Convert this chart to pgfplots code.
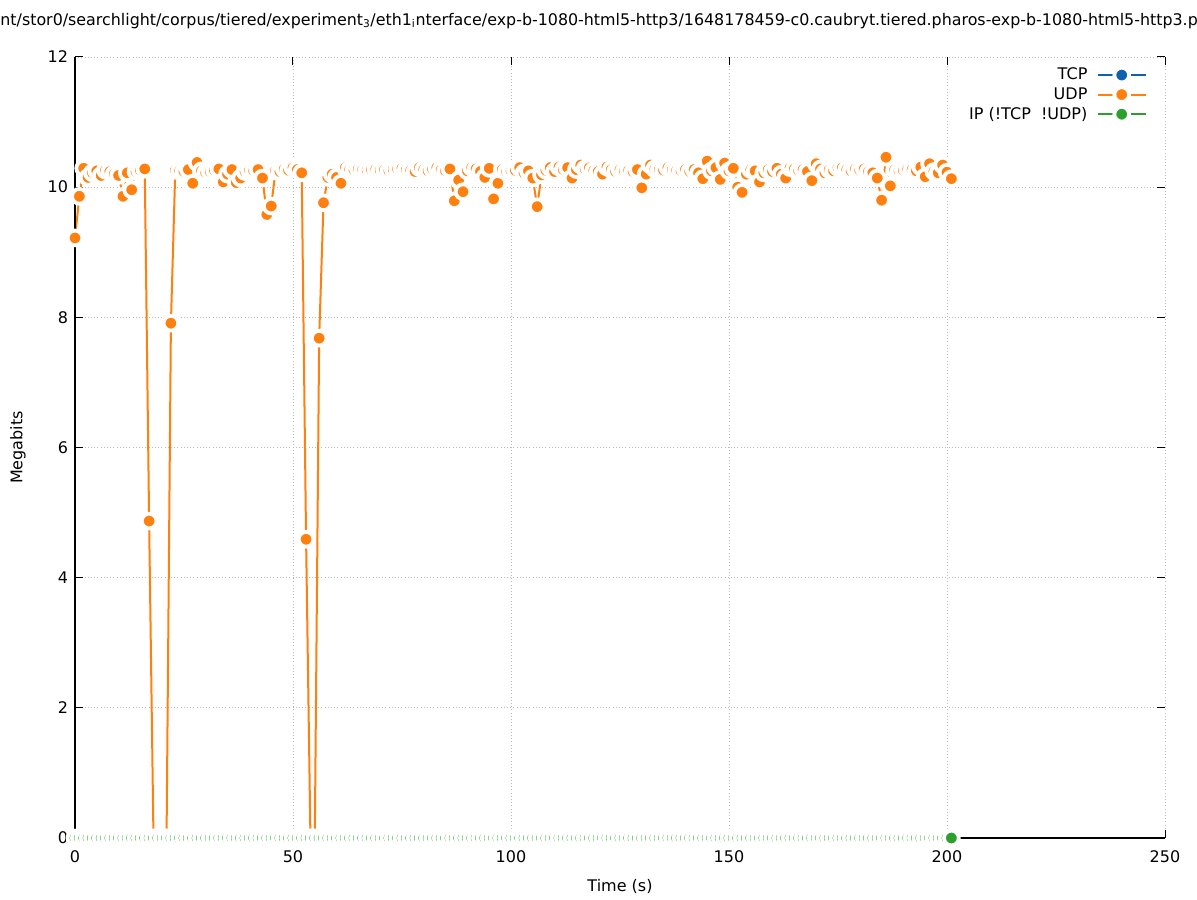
\documentclass[border=0pt]{standalone}
\usepackage{fontspec}
\setmainfont{DejaVu Sans}
\usepackage{pgfplots}
\pgfplotsset{compat=1.18}
\definecolor{tcpblue}{RGB}{16,96,176}
\definecolor{udporange}{RGB}{255,128,14}
\definecolor{ipgreen}{RGB}{44,160,44}
\begin{document}
\fontsize{12}{14.4}\selectfont
\begin{tikzpicture}
\begin{axis}[
  at={(0,0)}, anchor=south west,
  scale only axis, width=817.5pt, height=585.75pt,
  xmin=0, xmax=250, ymin=0, ymax=12,
  xtick={0,50,...,250}, ytick={0,2,...,12},
  /pgf/number format/assume math mode=true,
  tick align=inside, major tick length=6pt,
  tick style={black, line width=0.75pt},
  xticklabel style={yshift=-5pt},
  yticklabel style={xshift=-1pt},
  axis line style={draw=none},
  grid=major, grid style={dotted, line width=0.6pt, black!28},
  clip=false,
  xlabel={Time (s)}, ylabel={Megabits},
  xlabel style={at={(rel axis cs:0.5,0)}, anchor=center, yshift=-36pt},
  ylabel style={at={(rel axis cs:0,0.5)}, anchor=center, yshift=42.75pt},
  legend style={draw=none, fill=none, at={(rel axis cs:1,1)}, anchor=north east, xshift=-10.5pt, yshift=-4pt, row sep=0pt},
  legend plot pos=right, legend cell align=right,
  legend image code/.code={\path (0pt,0pt); \draw[mark repeat=2, mark phase=2] plot coordinates {(5pt,0pt)(23pt,0pt)(41pt,0pt)};},
  every axis plot/.append style={line width=1.5pt, line join=round},
  halo/.style={mark=*, mark size=5.55pt, mark options={fill=#1, draw=white, line width=2.85pt}},
]
\addlegendimage{tcpblue, halo=tcpblue}
\addlegendentry{TCP}
\addplot[udporange, halo=udporange] table {
x y
0 9.22
1 9.86
2 10.29
3 10.15
4 10.22
5 10.25
6 10.18
7 10.26
8 10.24
9 10.20
10 10.18
11 9.86
12 10.22
13 9.96
14 10.24
15 10.26
16 10.28
17 4.87
18 0
19 0
20 0
21 0
22 7.91
23 10.26
24 10.25
25 10.24
26 10.27
27 10.06
28 10.38
29 10.25
30 10.22
31 10.24
32 10.26
33 10.28
34 10.08
35 10.20
36 10.27
37 10.07
38 10.14
39 10.24
40 10.26
41 10.25
42 10.27
43 10.14
44 9.58
45 9.71
46 10.25
47 10.24
48 10.28
49 10.26
50 10.30
51 10.27
52 10.22
53 4.59
54 0
55 0
56 7.68
57 9.76
58 10.15
59 10.20
60 10.15
61 10.06
62 10.30
63 10.27
64 10.26
65 10.28
66 10.27
67 10.26
68 10.27
69 10.28
70 10.26
71 10.27
72 10.25
73 10.27
74 10.28
75 10.29
76 10.27
77 10.26
78 10.24
79 10.30
80 10.27
81 10.25
82 10.28
83 10.30
84 10.27
85 10.25
86 10.28
87 9.79
88 10.11
89 9.93
90 10.25
91 10.30
92 10.28
93 10.24
94 10.15
95 10.29
96 9.82
97 10.06
98 10.27
99 10.24
100 10.25
101 10.26
102 10.30
103 10.22
104 10.25
105 10.14
106 9.70
107 10.19
108 10.26
109 10.30
110 10.24
111 10.31
112 10.27
113 10.30
114 10.14
115 10.27
116 10.34
117 10.28
118 10.30
119 10.26
120 10.24
121 10.20
122 10.31
123 10.27
124 10.24
125 10.27
126 10.25
127 10.26
128 10.24
129 10.27
130 9.99
131 10.20
132 10.34
133 10.28
134 10.27
135 10.26
136 10.30
137 10.27
138 10.26
139 10.25
140 10.27
141 10.24
142 10.27
143 10.22
144 10.13
145 10.40
146 10.25
147 10.30
148 10.12
149 10.37
150 10.25
151 10.29
152 10.00
153 9.92
154 10.20
155 10.27
156 10.25
157 10.08
158 10.22
159 10.27
160 10.24
161 10.29
162 10.20
163 10.14
164 10.30
165 10.28
166 10.25
167 10.27
168 10.24
169 10.10
170 10.36
171 10.28
172 10.22
173 10.27
174 10.25
175 10.30
176 10.30
177 10.27
178 10.25
179 10.28
180 10.26
181 10.28
182 10.24
183 10.22
184 10.14
185 9.80
186 10.46
187 10.02
188 10.27
189 10.25
190 10.26
191 10.28
192 10.27
193 10.25
194 10.31
195 10.16
196 10.36
197 10.24
198 10.22
199 10.34
200 10.23
201 10.13
};
\addlegendentry{UDP}
\addplot[ipgreen, halo=ipgreen] coordinates {
(0,0) (1,0) (2,0) (3,0) (4,0) (5,0) (6,0) (7,0) (8,0) (9,0)
(10,0) (11,0) (12,0) (13,0) (14,0) (15,0) (16,0) (17,0) (18,0) (19,0)
(20,0) (21,0) (22,0) (23,0) (24,0) (25,0) (26,0) (27,0) (28,0) (29,0)
(30,0) (31,0) (32,0) (33,0) (34,0) (35,0) (36,0) (37,0) (38,0) (39,0)
(40,0) (41,0) (42,0) (43,0) (44,0) (45,0) (46,0) (47,0) (48,0) (49,0)
(50,0) (51,0) (52,0) (53,0) (54,0) (55,0) (56,0) (57,0) (58,0) (59,0)
(60,0) (61,0) (62,0) (63,0) (64,0) (65,0) (66,0) (67,0) (68,0) (69,0)
(70,0) (71,0) (72,0) (73,0) (74,0) (75,0) (76,0) (77,0) (78,0) (79,0)
(80,0) (81,0) (82,0) (83,0) (84,0) (85,0) (86,0) (87,0) (88,0) (89,0)
(90,0) (91,0) (92,0) (93,0) (94,0) (95,0) (96,0) (97,0) (98,0) (99,0)
(100,0) (101,0) (102,0) (103,0) (104,0) (105,0) (106,0) (107,0) (108,0) (109,0)
(110,0) (111,0) (112,0) (113,0) (114,0) (115,0) (116,0) (117,0) (118,0) (119,0)
(120,0) (121,0) (122,0) (123,0) (124,0) (125,0) (126,0) (127,0) (128,0) (129,0)
(130,0) (131,0) (132,0) (133,0) (134,0) (135,0) (136,0) (137,0) (138,0) (139,0)
(140,0) (141,0) (142,0) (143,0) (144,0) (145,0) (146,0) (147,0) (148,0) (149,0)
(150,0) (151,0) (152,0) (153,0) (154,0) (155,0) (156,0) (157,0) (158,0) (159,0)
(160,0) (161,0) (162,0) (163,0) (164,0) (165,0) (166,0) (167,0) (168,0) (169,0)
(170,0) (171,0) (172,0) (173,0) (174,0) (175,0) (176,0) (177,0) (178,0) (179,0)
(180,0) (181,0) (182,0) (183,0) (184,0) (185,0) (186,0) (187,0) (188,0) (189,0)
(190,0) (191,0) (192,0) (193,0) (194,0) (195,0) (196,0) (197,0) (198,0) (199,0)
(200,0) (201,0)
};
\addlegendentry{IP (!TCP~~!UDP)}
\draw[black, line width=1pt] (rel axis cs:0,1) -- (rel axis cs:0,0) -- (rel axis cs:1,0);
\end{axis}
\node[anchor=center, inner sep=0pt] at (396pt,612.75pt) {\scalebox{0.992}[1]{/mnt/stor0/searchlight/corpus/tiered/experiment\textsubscript{3}/eth1\textsubscript{i}nterface/exp-b-1080-html5-http3/1648178459-c0.caubryt.tiered.pharos-exp-b-1080-html5-http3.pcap}};
\pgfresetboundingbox
\path[use as bounding box] (-56.25pt,-46.5pt) rectangle (841.5pt,628.5pt);
\end{tikzpicture}
\end{document}
